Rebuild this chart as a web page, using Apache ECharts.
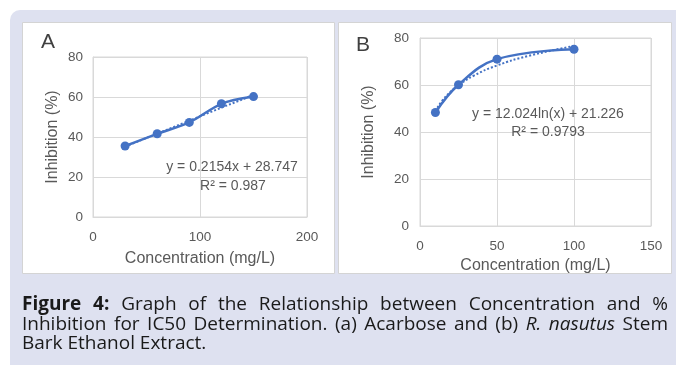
<!DOCTYPE html>
<html>
<head>
<meta charset="utf-8">
<script src="https://cdn.jsdelivr.net/npm/echarts@6/dist/echarts.min.js"></script>
<style>
html,body{margin:0;padding:0;background:#fff;}
#wrap{position:relative;width:676px;height:365px;overflow:hidden;}
#chart{position:absolute;left:0;top:0;width:676px;height:365px;}
#cap{position:absolute;left:22px;top:294px;width:646px;font-family:"Open Sans",sans-serif;font-size:19px;line-height:19.5px;color:#1a1a1a;}
#cap div{white-space:nowrap;}
#cap div.j{text-align:justify;text-align-last:justify;}
</style>
</head>
<body>
<div id="wrap">
<div id="chart"></div>
<div id="cap">
<div class="j"><b>Figure 4:</b> Graph of the Relationship between Concentration and %</div>
<div class="j">Inhibition for IC50 Determination. (a) Acarbose and (b) <i>R. nasutus</i> Stem</div>
<div>Bark Ethanol Extract.</div>
</div>
</div>
<script>
// Panel A (Acarbose)
const concA = [30, 60, 90, 120, 150];
const inhA = [35.5, 41.6, 47.3, 56.6, 60.2];
const trendAx = [30, 150];
const trendAy = [35.2, 61.1];
const eqA = 'y = 0.2154x + 28.747';
const r2A = 'R² = 0.987';
const xTicksA = [0, 100, 200];
const yTicks = [0, 20, 40, 60, 80];

// Panel B (R. nasutus stem bark ethanol extract)
const concB = [10, 25, 50, 100];
const inhB = [48.3, 60.1, 71.0, 75.2];
const trendBx = [10, 15, 20, 25, 35, 50, 70, 100];
const trendBy = [48.9, 53.8, 57.2, 59.9, 64.0, 68.3, 72.3, 76.6];
const eqB = 'y = 12.024ln(x) + 21.226';
const r2B = 'R² = 0.9793';
const xTicksB = [0, 50, 100, 150];

const txt = '#595959';
const gridC = '#d9d9d9';
const blue = '#4472C4';
const font = '"Liberation Sans", Arial, sans-serif';

const pair = (xs, ys) => xs.map((x, i) => [x, ys[i]]);

function xAxis(idx, ticks, gap) {
  return {
    type: 'value', gridIndex: idx,
    min: ticks[0], max: ticks[ticks.length - 1], interval: ticks[1] - ticks[0],
    name: 'Concentration (mg/L)', nameLocation: 'middle', nameGap: gap,
    nameTextStyle: {color: txt, fontSize: 16, fontFamily: font},
    axisLine: {show: true, lineStyle: {color: gridC, width: 1}},
    axisTick: {show: false},
    axisLabel: {color: txt, fontSize: 13.5, fontFamily: font, margin: 13},
    splitLine: {show: true, showMinLine: true, showMaxLine: true, lineStyle: {color: gridC, width: 1}}
  };
}
function yAxis(idx, gap, margin) {
  return {
    type: 'value', gridIndex: idx,
    min: yTicks[0], max: yTicks[yTicks.length - 1], interval: yTicks[1] - yTicks[0],
    name: 'Inhibition (%)', nameLocation: 'middle', nameGap: gap,
    nameTextStyle: {color: txt, fontSize: 16, fontFamily: font},
    axisLine: {show: true, lineStyle: {color: gridC, width: 1}},
    axisTick: {show: false},
    axisLabel: {color: txt, fontSize: 13.5, fontFamily: font, margin: margin},
    splitLine: {show: true, showMinLine: true, showMaxLine: true, lineStyle: {color: gridC, width: 1}}
  };
}

const chart = echarts.init(document.getElementById('chart'), null, {renderer: 'canvas'});
chart.setOption({
  animation: false,
  backgroundColor: 'transparent',
  grid: [
    {left: 93, top: 57, width: 214, height: 160, show: true, borderColor: gridC, borderWidth: 1, backgroundColor: 'transparent'},
    {left: 420, top: 38, width: 231, height: 188, show: true, borderColor: gridC, borderWidth: 1, backgroundColor: 'transparent'}
  ],
  xAxis: [xAxis(0, xTicksA, 34), xAxis(1, xTicksB, 28)],
  yAxis: [yAxis(0, 32, 10), yAxis(1, 43, 11)],
  graphic: {elements: [
    {type: 'rect', z: -100, shape: {x: 10, y: 10, width: 700, height: 400, r: [10, 0, 0, 0]}, style: {fill: '#dee1f0'}},
    {type: 'rect', z: -90, shape: {x: 22.5, y: 22.5, width: 312, height: 251}, style: {fill: '#fff', stroke: '#d4d4d4', lineWidth: 1}},
    {type: 'rect', z: -90, shape: {x: 338.5, y: 22.5, width: 333, height: 251}, style: {fill: '#fff', stroke: '#d4d4d4', lineWidth: 1}},
    {type: 'text', z: 100, left: 41, top: 32, style: {text: 'A', fill: '#404040', font: '21px ' + font}},
    {type: 'text', z: 100, left: 356, top: 35, style: {text: 'B', fill: '#404040', font: '21px ' + font}},
    {type: 'text', z: 100, x: 232, y: 167, style: {text: eqA, fill: txt, font: '14px ' + font, align: 'center', verticalAlign: 'middle'}},
    {type: 'text', z: 100, x: 233, y: 186, style: {text: r2A, fill: txt, font: '14px ' + font, align: 'center', verticalAlign: 'middle'}},
    {type: 'text', z: 100, x: 548, y: 114, style: {text: eqB, fill: txt, font: '14px ' + font, align: 'center', verticalAlign: 'middle'}},
    {type: 'text', z: 100, x: 548, y: 132, style: {text: r2B, fill: txt, font: '14px ' + font, align: 'center', verticalAlign: 'middle'}}
  ]},
  series: [
    {type: 'line', xAxisIndex: 0, yAxisIndex: 0, data: pair(trendAx, trendAy), showSymbol: false, symbol: 'none',
     lineStyle: {color: blue, width: 2, type: [2, 2]}, z: 2},
    {type: 'line', xAxisIndex: 0, yAxisIndex: 0, data: pair(concA, inhA), smooth: 0.3,
     symbol: 'circle', symbolSize: 9, itemStyle: {color: blue}, lineStyle: {color: blue, width: 2.5}, z: 3},
    {type: 'line', xAxisIndex: 1, yAxisIndex: 1, data: pair(trendBx, trendBy), smooth: true, showSymbol: false, symbol: 'none',
     lineStyle: {color: blue, width: 2, type: [2, 2]}, z: 2},
    {type: 'line', xAxisIndex: 1, yAxisIndex: 1, data: pair(concB, inhB), smooth: 0.4,
     symbol: 'circle', symbolSize: 9, itemStyle: {color: blue}, lineStyle: {color: blue, width: 2.5}, z: 3}
  ]
});
</script>
</body>
</html>
